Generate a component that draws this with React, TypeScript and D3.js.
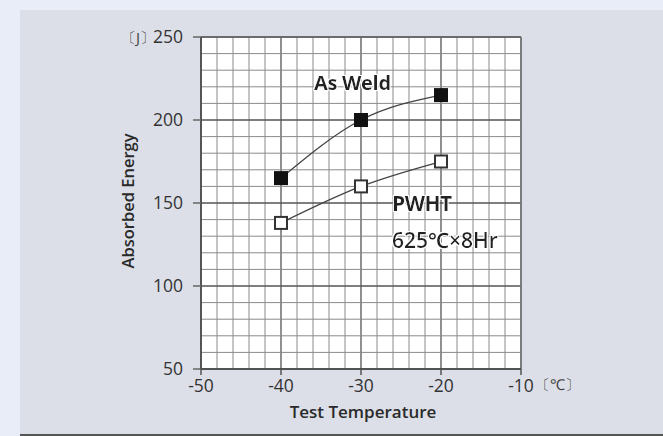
import * as d3 from "d3";

const temps = [-40, -30, -20];
const asWeld = [165, 200, 215];
const pwht = [138, 160, 175];
const xTicks = [-50, -40, -30, -20, -10];
const yTicks = [50, 100, 150, 200, 250];

const W = 663;
const H = 436;
const font = "'Open Sans', 'Noto Sans', sans-serif";

export default function App() {
  const x = d3.scaleLinear().domain([-50, -10]).range([201, 521]);
  const y = d3.scaleLinear().domain([50, 250]).range([369, 37]);

  const minorX = d3.range(-50, -9, 2);
  const minorY = d3.range(50, 251, 10);

  const line = d3
    .line<[number, number]>()
    .x((d) => x(d[0]))
    .y((d) => y(d[1]))
    .curve(d3.curveMonotoneX);

  const weldPts = temps.map((t, i) => [t, asWeld[i]] as [number, number]);
  const pwhtPts = temps.map((t, i) => [t, pwht[i]] as [number, number]);
  const s = 14;

  return (
    <div style={{ position: "absolute", left: 0, top: 0 }}>
      <svg width={W} height={H} style={{ display: "block" }}>
        <defs>
          <filter id="halo" x="-10%" y="-20%" width="120%" height="140%">
            <feMorphology operator="dilate" radius="1" in="SourceAlpha" result="d" />
            <feFlood floodColor="#ffffff" />
            <feComposite in2="d" operator="in" result="w" />
            <feMerge>
              <feMergeNode in="w" />
              <feMergeNode in="SourceGraphic" />
            </feMerge>
          </filter>
        </defs>
        <rect width={W} height={H} fill="#e9edf7" />
        <rect x={20} y={10} width={W - 20} height={424} fill="#dcdfe7" />
        <rect x={20} y={434} width={W - 20} height={2} fill="#555" />

        {/* plot area */}
        <rect x={x(-50)} y={y(250)} width={x(-10) - x(-50)} height={y(50) - y(250)} fill="#ffffff" />
        {minorX.map((v) => (
          <line key={"mx" + v} x1={x(v)} x2={x(v)} y1={y(250)} y2={y(50)}
            stroke={v % 10 === 0 ? "#555" : "#8a8a8a"} strokeWidth={v % 10 === 0 ? 1.3 : 1} />
        ))}
        {minorY.map((v) => (
          <line key={"my" + v} y1={y(v)} y2={y(v)} x1={x(-50)} x2={x(-10)}
            stroke={v % 50 === 0 ? "#555" : "#8a8a8a"} strokeWidth={v % 50 === 0 ? 1.3 : 1} />
        ))}
        <line x1={x(-50)} x2={x(-10)} y1={y(250)} y2={y(250)} stroke="#666" strokeWidth={1.5} />
        <line x1={x(-10)} x2={x(-10)} y1={y(250)} y2={y(50)} stroke="#777" strokeWidth={1.5} />
        <line x1={x(-50)} x2={x(-10)} y1={y(50)} y2={y(50)} stroke="#444" strokeWidth={1.5} />
        <line x1={x(-50)} x2={x(-50)} y1={y(250)} y2={y(50)} stroke="#444" strokeWidth={1.5} />

        {/* ticks */}
        {yTicks.map((v) => (
          <g key={"yt" + v}>
            <line x1={x(-50) - 8} x2={x(-50)} y1={y(v)} y2={y(v)} stroke="#666" strokeWidth={1.5} />
            <text x={183} y={y(v)} dy="0.36em" textAnchor="end" fontFamily={font} fontSize={17.5} fill="#333">{v}</text>
          </g>
        ))}
        {xTicks.map((v) => (
          <g key={"xt" + v}>
            <line x1={x(v)} x2={x(v)} y1={y(50)} y2={y(50) + 6} stroke="#555" strokeWidth={1.5} />
            <text x={x(v)} y={392} textAnchor="middle" fontFamily={font} fontSize={17.5} fill="#333">{v}</text>
          </g>
        ))}
        <text x={121} y={43} fontFamily={font} fontSize={15} fill="#444">〔J〕</text>
        <text x={535} y={390} fontFamily={font} fontSize={15} fill="#444">〔℃〕</text>

        {/* axis titles */}
        <text x={363} y={418} textAnchor="middle" fontFamily={font} fontSize={17} fontWeight={600} fill="#2a2a2a">Test Temperature</text>
        <text transform={`translate(134,201) rotate(-90)`} textAnchor="middle" fontFamily={font} fontSize={16.5} fontWeight={600} fill="#2a2a2a">Absorbed Energy</text>

        {/* series */}
        <path d={line(weldPts) ?? ""} fill="none" stroke="#444" strokeWidth={1.3} />
        <path d={line(pwhtPts) ?? ""} fill="none" stroke="#444" strokeWidth={1.3} />
        {weldPts.map((p) => (
          <rect key={"w" + p[0]} x={x(p[0]) - s / 2} y={y(p[1]) - s / 2} width={s} height={s} fill="#111" />
        ))}
        {pwhtPts.map((p) => (
          <rect key={"p" + p[0]} x={x(p[0]) - s / 2 + 1} y={y(p[1]) - s / 2 + 1} width={s - 2} height={s - 2} fill="#fff" stroke="#333" strokeWidth={2} />
        ))}

        {/* labels */}
        <g filter="url(#halo)" fontFamily={font} fill="#222">
          <text x={314} y={90} fontSize={20} fontWeight={700} letterSpacing={-0.3}>As Weld</text>
          <text x={392} y={211} fontSize={21} fontWeight={700} letterSpacing={-0.5}>PWHT</text>
          <text x={392} y={248} fontSize={21} fontWeight={600}>625℃×8Hr</text>
        </g>
      </svg>
    </div>
  );
}
